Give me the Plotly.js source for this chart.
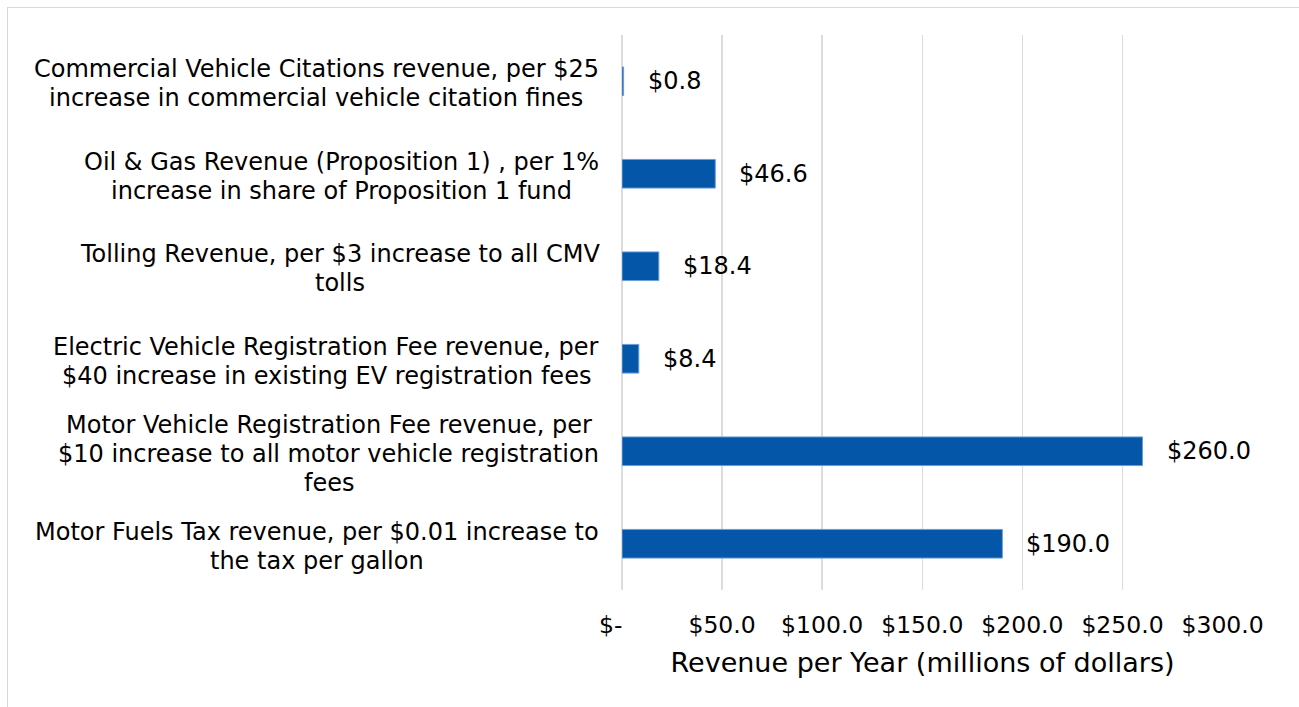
<!DOCTYPE html>
<html>
<head>
<meta charset="utf-8">
<script src="https://cdn.plot.ly/plotly-3.0.1.min.js"></script>
<style>
  html, body { margin: 0; padding: 0; background: #ffffff; }
  #frame { position: absolute; left: 7px; top: 7px; width: 1400px; height: 800px; border: 1.5px solid #d9d9d9; box-sizing: border-box; }
  #chart { position: absolute; left: 0; top: 0; width: 1299px; height: 707px; }
</style>
</head>
<body>
<div id="frame"></div>
<div id="chart"></div>
<script>
// Categories listed bottom-to-top
const categories = [
  "Motor Fuels Tax revenue, per $0.01 increase to<br>the tax per gallon",
  "Motor Vehicle Registration Fee revenue, per<br>$10 increase to all motor vehicle registration<br>fees",
  "Electric Vehicle Registration Fee revenue, per<br>$40 increase in existing EV registration fees",
  "Tolling Revenue, per $3 increase to all CMV<br>tolls",
  "Oil & Gas Revenue (Proposition 1) , per 1%<br>increase in share of Proposition 1 fund",
  "Commercial Vehicle Citations revenue, per $25<br>increase in commercial vehicle citation fines"
];
const revenue = [190.0, 260.0, 8.4, 18.4, 46.6, 0.8];
const tickValues = [0, 50, 100, 150, 200, 250, 300];
const tickLabels = ["$-\u00a0\u00a0\u00a0", "$50.0", "$100.0", "$150.0", "$200.0", "$250.0", "$300.0"];
const xTitle = "Revenue per Year (millions of dollars)";

const FONT = "DejaVu Sans, Verdana, sans-serif";
const GRID = "#dcdcdc";
const LABEL_SIZE = 24;
const LINE_H = 29;
const LABEL_GAP = 23;

// text measurement, used to center each label's lines on its own block
const ctx = document.createElement("canvas").getContext("2d");
ctx.font = LABEL_SIZE + "px 'DejaVu Sans'";
function textW(s) { return ctx.measureText(s).width; }

const trace = {
  type: "bar",
  orientation: "h",
  x: revenue,
  y: categories,
  marker: { color: "#0457a8", line: { color: "#6a9fd8", width: 1 } },
  hoverinfo: "none"
};

const annotations = [];
categories.forEach((c, i) => {
  const lines = c.split("<br>");
  const n = lines.length;
  const blockW = Math.max(...lines.map(textW));
  lines.forEach((ln, k) => {
    annotations.push({
      xref: "paper", yref: "y", x: 0, y: c,
      xanchor: "center", yanchor: "middle",
      xshift: -LABEL_GAP - blockW / 2,
      yshift: ((n - 1) / 2 - k) * LINE_H - 2.5,
      text: ln, showarrow: false,
      font: { family: FONT, size: LABEL_SIZE, color: "#000000" }
    });
  });
  annotations.push({
    xref: "x", yref: "y", x: revenue[i], y: c,
    xanchor: "left", yanchor: "middle", xshift: 22,
    text: "$" + revenue[i].toFixed(1), showarrow: false,
    font: { family: FONT, size: 24, color: "#000000" }
  });
});

const layout = {
  width: 1299, height: 707,
  paper_bgcolor: "rgba(0,0,0,0)", plot_bgcolor: "rgba(0,0,0,0)",
  margin: { l: 622, r: 76, t: 35, b: 117, pad: 0 },
  showlegend: false,
  bargap: 0.69,
  font: { family: FONT, size: 24, color: "#000000" },
  xaxis: {
    range: [0, 300.2],
    tickmode: "array", tickvals: tickValues, ticktext: tickLabels,
    showgrid: true, gridcolor: GRID, gridwidth: 1.5,
    zeroline: true, zerolinecolor: GRID, zerolinewidth: 1.5,
    showline: false, ticks: "",
    ticklabelstandoff: 18,
    tickfont: { family: FONT, size: 23.5, color: "#000000" },
    title: { text: xTitle, font: { family: FONT, size: 27, color: "#000000" }, standoff: 15 }
  },
  yaxis: {
    type: "category", showticklabels: false, showgrid: false,
    zeroline: false, showline: false, ticks: ""
  },
  annotations: annotations
};

Plotly.newPlot("chart", [trace], layout, { displayModeBar: false, staticPlot: true });
</script>
</body>
</html>
